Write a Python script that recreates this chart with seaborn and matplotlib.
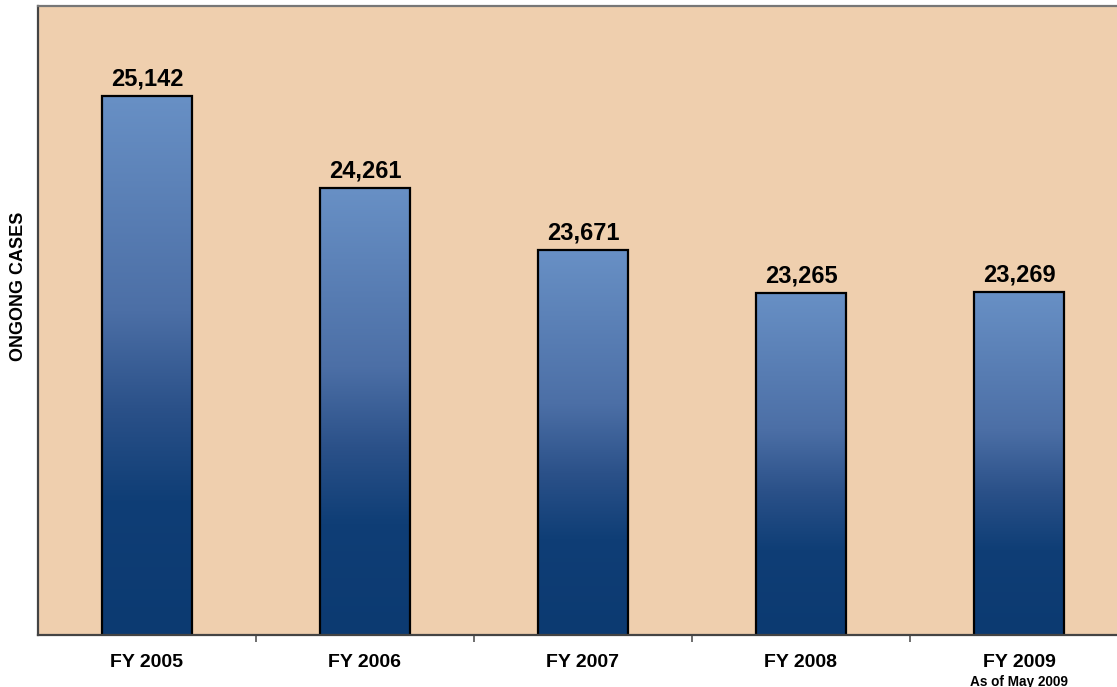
import numpy as np
import pandas as pd
import matplotlib
matplotlib.use("Agg")
import matplotlib.pyplot as plt
from matplotlib.colors import LinearSegmentedColormap
import seaborn as sns

# ---- data ----
categories = ["FY 2005", "FY 2006", "FY 2007", "FY 2008", "FY 2009"]
ongoing_cases = [25142, 24261, 23671, 23265, 23269]
note_2009 = "As of May 2009"
y_label = "ONGONG CASES"

df = pd.DataFrame({"year": categories, "cases": ongoing_cases})

sns.set_style("white")
plt.rcParams["font.family"] = ["Liberation Sans", "DejaVu Sans"]

fig = plt.figure(figsize=(11.17, 6.87), dpi=100)
fig.patch.set_facecolor("white")
ax = fig.add_axes([38 / 1117, 52 / 687, 1090 / 1117, 629 / 687])
ax.set_facecolor("#efcfae")

sns.barplot(data=df, x="year", y="cases", ax=ax, color="#4a6ea6",
            width=0.41, edgecolor="black", linewidth=1.6, saturation=1)

ymin, ymax = 20000, 26000
ax.set_ylim(ymin, ymax)
ax.set_xlim(-0.5, len(categories) - 0.5)

# gradient fill inside bars
cmap = LinearSegmentedColormap.from_list(
    "barg",
    [(0.0, "#0c3a71"), (0.25, "#0f3e76"), (0.42, "#2b5189"),
     (0.6, "#4c6fa6"), (1.0, "#6890c5")])
grad = np.linspace(0, 1, 256).reshape(-1, 1)
for bar in ax.patches:
    x0 = bar.get_x()
    x1 = x0 + bar.get_width()
    top = bar.get_y() + bar.get_height()
    im = ax.imshow(grad, cmap=cmap, origin="lower", aspect="auto",
                   extent=(x0, x1, ymin, top), zorder=bar.get_zorder() + 0.1,
                   interpolation="bilinear")
    im.set_clip_path(bar)
    bar.set_facecolor("none")
    bar.set_zorder(bar.get_zorder() + 0.2)
ax.set_xlim(-0.5, len(categories) - 0.5)
ax.set_ylim(ymin, ymax)

# value labels
ax.bar_label(ax.containers[0], labels=[f"{v:,}" for v in ongoing_cases],
             padding=4, fontsize=17, fontweight="bold", color="black")

# axes styling
ax.set_yticks([])
ax.set_xlabel("")
ax.set_ylabel(y_label, fontsize=13, fontweight="bold", color="black")
ax.yaxis.set_label_coords((27 - 38) / 1090, (635 - 286) / 629)
ax.tick_params(axis="x", which="major", length=0, pad=14,
               labelsize=14, labelcolor="black")
for lbl in ax.get_xticklabels():
    lbl.set_fontweight("bold")
ax.set_xticks(np.arange(len(categories) - 1) + 0.5, minor=True)
ax.tick_params(axis="x", which="minor", bottom=True, length=5, width=1.2,
               direction="out", color="#555555")

for side, col, lw in [("left", "#444444", 1.6), ("top", "#777777", 1.6),
                      ("bottom", "#444444", 1.6)]:
    ax.spines[side].set_visible(True)
    ax.spines[side].set_color(col)
    ax.spines[side].set_linewidth(lw)
ax.spines["right"].set_visible(False)

ax.annotate(note_2009, xy=(4, 0), xycoords=("data", "axes fraction"),
            xytext=(0, -28.5), textcoords="offset points",
            ha="center", va="top", fontsize=9.8, fontweight="bold",
            color="black", annotation_clip=False)

fig.savefig("out.png", dpi=100, facecolor="white")
